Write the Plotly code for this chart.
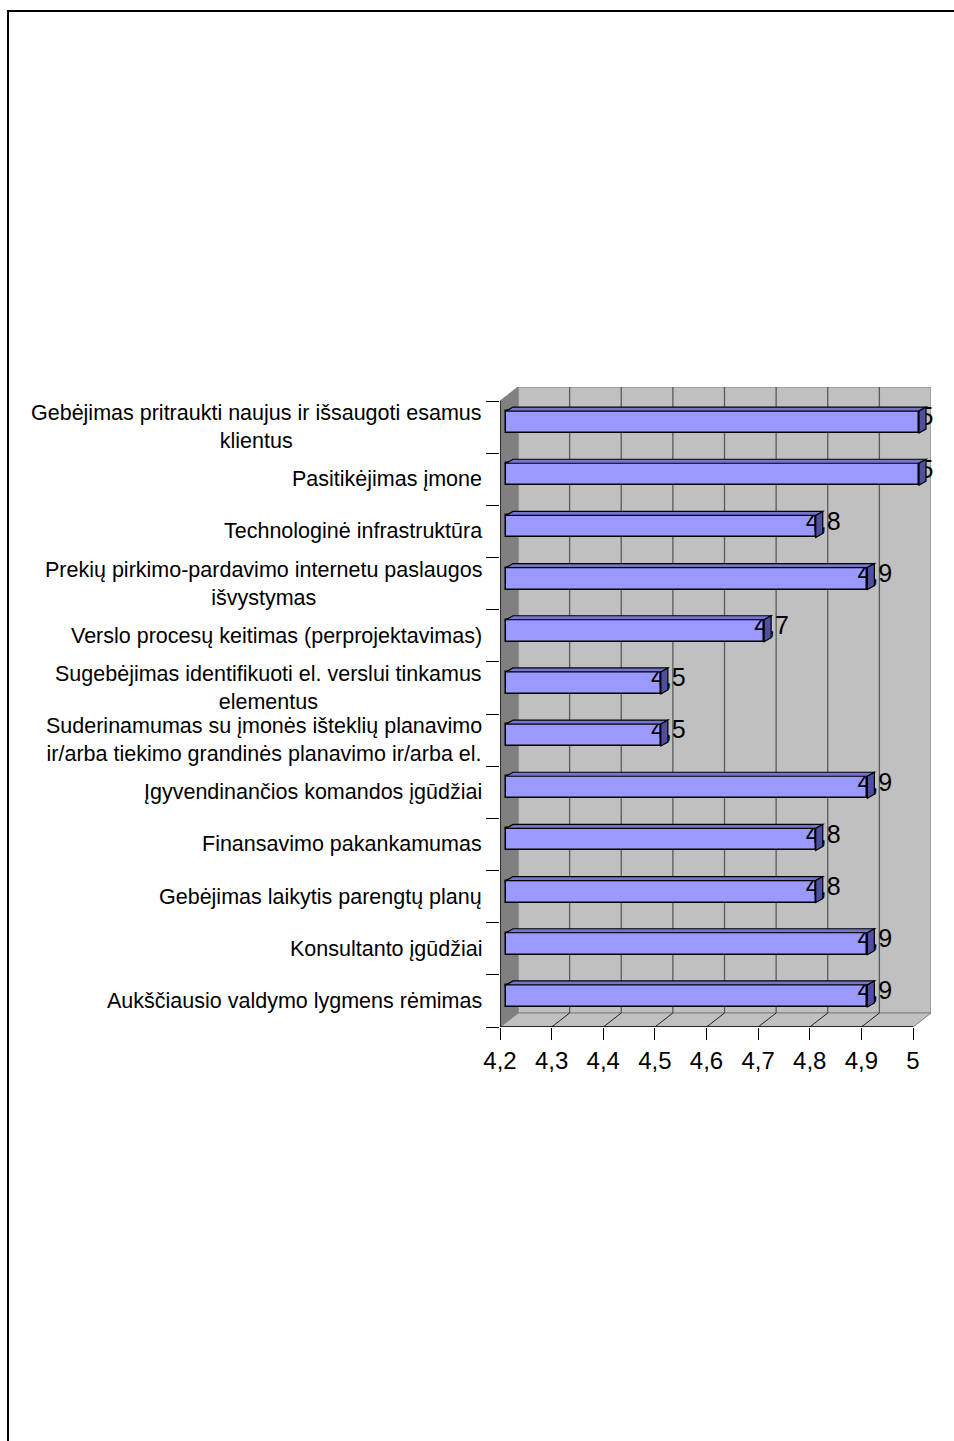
import plotly.graph_objects as go

# ---------------- data ----------------
categories = [
    "Gebėjimas pritraukti naujus ir išsaugoti esamus<br>klientus",
    "Pasitikėjimas įmone",
    "Technologinė infrastruktūra",
    "Prekių pirkimo-pardavimo internetu paslaugos<br>išvystymas",
    "Verslo procesų keitimas (perprojektavimas)",
    "Sugebėjimas identifikuoti el. verslui tinkamus<br>elementus",
    "Suderinamumas su įmonės išteklių planavimo<br>ir/arba tiekimo grandinės planavimo ir/arba el.",
    "Įgyvendinančios komandos įgūdžiai",
    "Finansavimo pakankamumas",
    "Gebėjimas laikytis parengtų planų",
    "Konsultanto įgūdžiai",
    "Aukščiausio valdymo lygmens rėmimas",
]
values = [5, 5, 4.8, 4.9, 4.7, 4.5, 4.5, 4.9, 4.8, 4.8, 4.9, 4.9]
x_tick_values = [4.2, 4.3, 4.4, 4.5, 4.6, 4.7, 4.8, 4.9, 5.0]
x_tick_labels = ["4,2", "4,3", "4,4", "4,5", "4,6", "4,7", "4,8", "4,9", "5"]

# ---------------- layout geometry ----------------
W, H = 954, 1441
FRONT_L, FRONT_R, FRONT_T, FRONT_B = 500, 913, 401, 1027
DEPTH_DX, DEPTH_DY = 18, 14
X_MIN, X_MAX = x_tick_values[0], x_tick_values[-1]
n = len(categories)

px_x = (FRONT_R - FRONT_L) / (X_MAX - X_MIN)
px_row = (FRONT_B - FRONT_T) / n
ddx = DEPTH_DX / px_x
ddy = DEPTH_DY / px_row

x_range = [X_MIN, X_MIN + (FRONT_R + DEPTH_DX - FRONT_L) / px_x]
y_top = -0.5
y_bot = n - 0.5
y_range = [y_bot, y_top - ddy]

# bar geometry (px converted to data units)
box = 6 / px_x
boy = 5 / px_row
bdx = 7 / px_x
bdy = 4 / px_row
bw = 22 / px_row

WALL = "#c0c0c0"
SIDE = "#808080"
GRID = "#5a5a5a"
BAR = "#9999ff"
BAR_TOP = "#7575d1"
BAR_SIDE = "#4f4f9e"
FONT = "Liberation Sans, Arial, sans-serif"


def path(points):
    s = "M " + " L ".join(f"{x},{y}" for x, y in points) + " Z"
    return s


shapes = []
# back wall
shapes.append(dict(type="path", xref="x", yref="y", layer="below",
                   path=path([(X_MIN + ddx, y_top - ddy), (X_MAX + ddx, y_top - ddy),
                              (X_MAX + ddx, y_bot - ddy), (X_MIN + ddx, y_bot - ddy)]),
                   fillcolor=WALL, line=dict(color=SIDE, width=1)))
# floor
shapes.append(dict(type="path", xref="x", yref="y", layer="below",
                   path=path([(X_MIN, y_bot), (X_MAX, y_bot),
                              (X_MAX + ddx, y_bot - ddy), (X_MIN + ddx, y_bot - ddy)]),
                   fillcolor=WALL, line=dict(color=SIDE, width=1)))
# left wall
shapes.append(dict(type="path", xref="x", yref="y", layer="below",
                   path=path([(X_MIN, y_bot), (X_MIN, y_top),
                              (X_MIN + ddx, y_top - ddy), (X_MIN + ddx, y_bot - ddy)]),
                   fillcolor=SIDE, line=dict(color=SIDE, width=1)))
# grid lines on back wall and floor
for v in x_tick_values[1:-1]:
    shapes.append(dict(type="line", xref="x", yref="y", layer="below",
                       x0=v + ddx, x1=v + ddx, y0=y_top - ddy, y1=y_bot - ddy,
                       line=dict(color=GRID, width=1.3)))
for v in x_tick_values[1:-1]:
    shapes.append(dict(type="line", xref="x", yref="y", layer="below",
                       x0=v, x1=v + ddx, y0=y_bot, y1=y_bot - ddy,
                       line=dict(color="#202020", width=1)))
# front edges
shapes.append(dict(type="line", xref="x", yref="y", layer="below",
                   x0=X_MIN, x1=X_MAX, y0=y_bot, y1=y_bot,
                   line=dict(color="black", width=1.3)))
shapes.append(dict(type="line", xref="x", yref="y", layer="below",
                   x0=X_MIN, x1=X_MIN, y0=y_bot, y1=y_top,
                   line=dict(color="black", width=1.3)))

# bar 3d faces
for i, v in enumerate(values):
    yc = i - boy
    yt = yc - bw / 2
    yb = yc + bw / 2
    x0 = X_MIN + box
    x1 = v + box
    shapes.append(dict(type="path", xref="x", yref="y", layer="above",
                       path=path([(x0, yt), (x1, yt), (x1 + bdx, yt - bdy), (x0 + bdx, yt - bdy)]),
                       fillcolor=BAR_TOP, line=dict(color="black", width=1.2)))
    shapes.append(dict(type="path", xref="x", yref="y", layer="above",
                       path=path([(x1, yt), (x1 + bdx, yt - bdy), (x1 + bdx, yb - bdy), (x1, yb)]),
                       fillcolor=BAR_SIDE, line=dict(color="black", width=1.2)))

# page frame
shapes.append(dict(type="path", xref="paper", yref="paper", layer="above",
                   path=f"M {8 / W},0 L {8 / W},{(H - 11) / H} L 1,{(H - 11) / H}",
                   line=dict(color="black", width=2)))

fig = go.Figure()
fig.add_trace(go.Bar(
    orientation="h",
    y=[i - boy for i in range(n)],
    x=[v - X_MIN for v in values],
    base=[X_MIN + box] * n,
    width=bw,
    marker=dict(color=BAR, line=dict(color="black", width=1.5)),
    hoverinfo="skip",
    showlegend=False,
))
fig.add_trace(go.Scatter(
    x=[v + box + 7.5 / px_x for v in values],
    y=[i - boy - 3 / px_row for i in range(n)],
    mode="text",
    text=[f"{v:g}".replace(".", ",") for v in values],
    textposition="middle center",
    textfont=dict(family=FONT, size=25, color="black"),
    cliponaxis=False,
    showlegend=False,
    hoverinfo="skip",
))

annotations = []
for i, c in enumerate(categories):
    annotations.append(dict(
        xref="paper", yref="y", x=484 / W, y=i,
        xanchor="right", yanchor="middle", align="center",
        text=c, showarrow=False,
        font=dict(family=FONT, size=21.5, color="black"),
    ))

fig.update_layout(
    width=W, height=H,
    margin=dict(l=0, r=0, t=0, b=0, pad=0, autoexpand=False),
    paper_bgcolor="white",
    plot_bgcolor="rgba(0,0,0,0)",
    shapes=shapes,
    annotations=annotations,
    bargap=0,
    xaxis=dict(
        domain=[FRONT_L / W, (FRONT_R + DEPTH_DX) / W],
        range=x_range, automargin=False,
        tickmode="array", tickvals=x_tick_values, ticktext=x_tick_labels,
        ticks="outside", ticklen=12, tickcolor="black", tickwidth=1,
        tickfont=dict(family=FONT, size=24, color="black"),
        showgrid=False, zeroline=False, showline=False,
        fixedrange=True,
    ),
    yaxis=dict(
        domain=[(H - FRONT_B) / H, (H - (FRONT_T - DEPTH_DY)) / H],
        range=y_range, automargin=False,
        tickmode="array", tickvals=[k - 0.5 for k in range(n + 1)],
        ticks="outside", ticklen=13, tickcolor="black", tickwidth=1,
        showticklabels=False,
        showgrid=False, zeroline=False, showline=False,
        fixedrange=True,
    ),
)

fig.write_html("out.html")
